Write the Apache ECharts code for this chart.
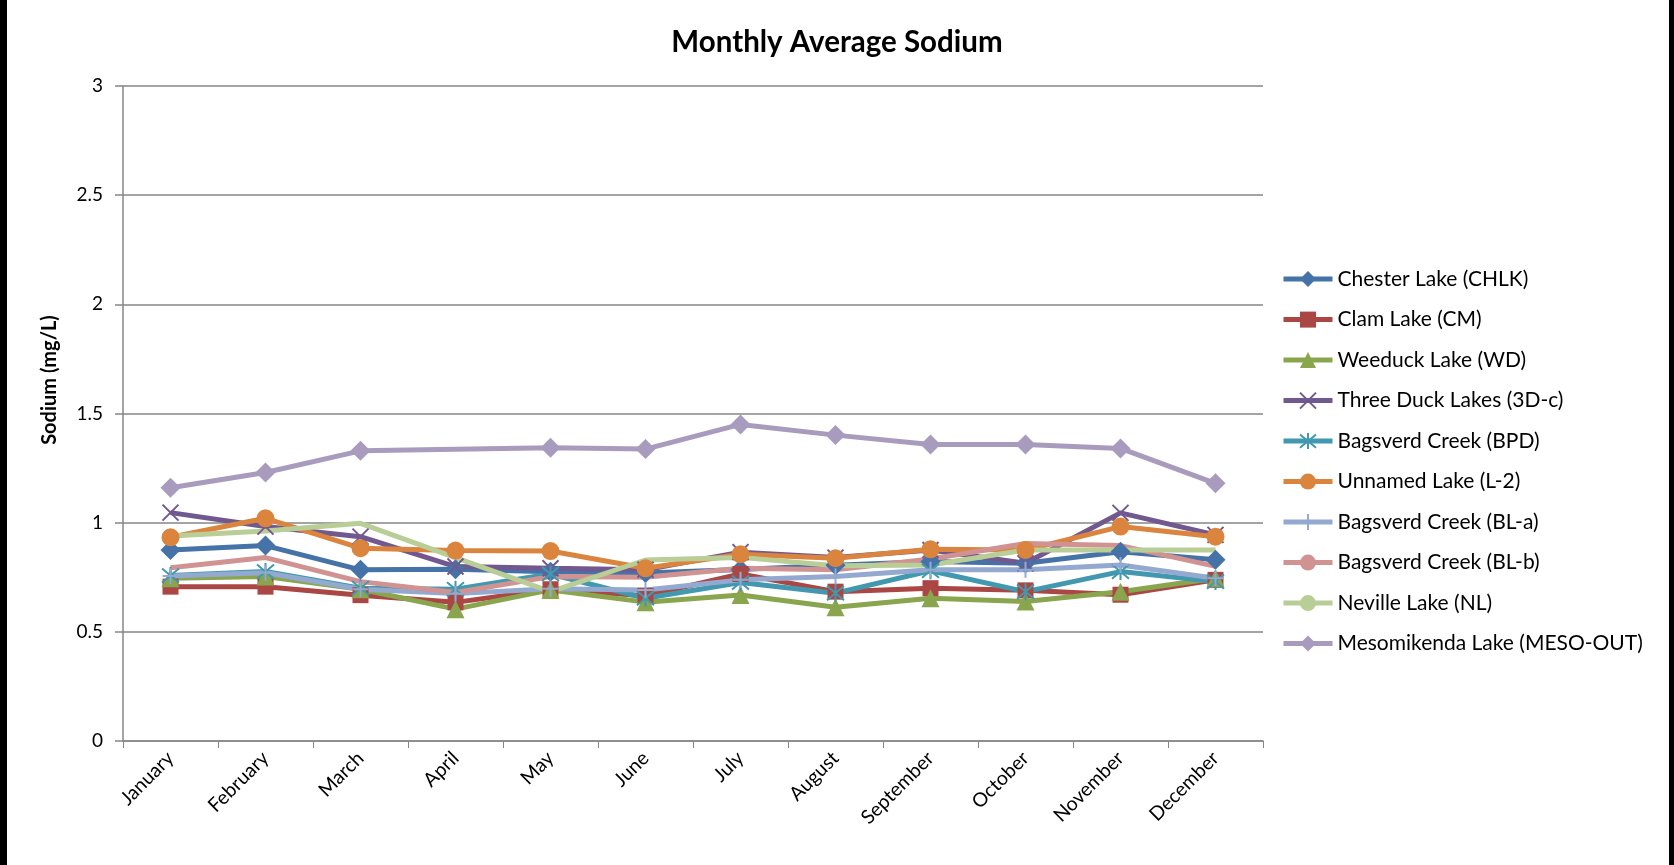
<!DOCTYPE html>
<html>
<head>
<meta charset="utf-8">
<script src="https://cdn.jsdelivr.net/npm/echarts@6/dist/echarts.min.js"></script>
<style>
html,body{margin:0;padding:0;background:#fff;}
#chart{width:1674px;height:865px;}
</style>
</head>
<body>
<div id="chart"></div>
<script>
const months = ['January','February','March','April','May','June','July','August','September','October','November','December'];
const seriesNames = ['Chester Lake (CHLK)','Clam Lake (CM)','Weeduck Lake (WD)','Three Duck Lakes (3D-c)','Bagsverd Creek (BPD)','Unnamed Lake (L-2)','Bagsverd Creek (BL-a)','Bagsverd Creek (BL-b)','Neville Lake (NL)','Mesomikenda Lake (MESO-OUT)'];
const chlk  = [0.875,0.895,0.784,0.787,0.775,0.770,0.785,0.805,0.822,0.814,0.867,0.830];
const cm    = [0.707,0.707,0.668,0.635,0.695,0.665,0.765,0.684,0.700,0.690,0.670,0.738];
const wd    = [0.745,0.753,0.695,0.604,0.692,0.636,0.669,0.613,0.654,0.639,0.684,0.745];
const d3c   = [1.046,0.982,0.936,0.799,0.791,0.784,0.865,0.840,0.875,0.814,1.045,0.944];
const bpd   = [0.758,0.776,0.700,0.695,0.765,0.654,0.726,0.677,0.780,0.684,0.776,0.730];
const l2    = [0.933,1.020,0.883,0.872,0.870,0.791,0.855,0.837,0.878,0.875,0.982,0.936];
const bla   = [0.756,0.771,0.695,0.675,0.697,0.692,0.738,0.753,0.784,0.784,0.806,0.745];
const blb   = [0.794,0.840,0.730,0.680,0.753,0.750,0.791,0.784,0.834,0.905,0.895,0.800];
const nl    = [0.939,0.962,0.997,0.840,0.684,0.829,0.841,0.803,0.806,0.875,0.875,0.875];
const meso  = [1.160,1.230,1.329,null,1.343,1.337,1.450,1.401,1.358,1.358,1.340,1.180];
const yTickLabels = ['0','0.5','1','1.5','2','2.5','3'];
const yTitle = 'Sodium (mg/L)';
const chartTitle = 'Monthly Average Sodium';

const colors = ['#4572A7','#AA4643','#89A54E','#71588F','#4198AF','#DB843D','#93A9CF','#D19392','#B9CD96','#A99BBD'];
const allData = [chlk,cm,wd,d3c,bpd,l2,bla,blb,nl,meso];
const symX = 'path://M0,0L10,10M10,0L0,10';
const symStar = 'path://M0,0L10,10M10,0L0,10M5,-1L5,11';
const symPlus = 'path://M5,0L5,10M0,5L10,5';
const symbols = ['diamond','rect','triangle',symX,symStar,'circle',symPlus,'none','none','diamond'];
const sizes = [20,16,18,16,17,18,16,0,0,20];
const strokeOnly = [false,false,false,true,true,false,true,false,false,false];

const FONT = 'Lato, "Open Sans", sans-serif';
const chart = echarts.init(document.getElementById('chart'));
const series = seriesNames.map((n,i)=>({
  name:n, type:'line', data:allData[i], connectNulls:true,
  symbol:symbols[i], symbolSize:sizes[i], showSymbol: symbols[i]!=='none',
  lineStyle:{width:5,color:colors[i]},
  itemStyle: strokeOnly[i] ? {color:colors[i],borderColor:colors[i],borderWidth:2} : {color:colors[i]},
  emphasis:{disabled:true},
  animation:false
}));
chart.setOption({
  animation:false,
  backgroundColor:'#fff',
  title:{text:chartTitle,left:'center',top:27,padding:0,
    textStyle:{fontFamily:FONT,fontSize:29.5,fontWeight:'bold',color:'#000'}},
  grid:{left:123,top:86,right:411,bottom:124,containLabel:false},
  legend:{orient:'vertical',left:1281,top:268.6,padding:0,itemWidth:49,itemHeight:20,itemGap:19.5,
    lineStyle:{width:5},
    textStyle:{fontFamily:FONT,fontSize:21,lineHeight:20,color:'#000'},data:seriesNames},
  xAxis:{type:'category',data:months,boundaryGap:true,
    axisLine:{lineStyle:{color:'#868686',width:1.5}},
    axisTick:{show:true,length:7,interval:0,lineStyle:{color:'#868686',width:1}},
    axisLabel:{rotate:45,interval:0,margin:14,fontFamily:FONT,fontSize:19.5,color:'#000'}},
  yAxis:{type:'value',min:0,max:3,interval:0.5,
    axisLine:{show:true,lineStyle:{color:'#868686',width:1.5}},
    axisTick:{show:true,length:8,lineStyle:{color:'#868686',width:1.5}},
    splitLine:{show:true,lineStyle:{color:'#868686',width:1.5}},
    axisLabel:{margin:20,fontFamily:FONT,fontSize:19,color:'#000',
      formatter:(v)=>yTickLabels[Math.round(v/0.5)]}},
  graphic:[
    {type:'rect',shape:{x:0,y:0,width:7,height:865},style:{fill:'#000'},silent:true},
    {type:'rect',shape:{x:1669,y:0,width:5,height:865},style:{fill:'#000'},silent:true},
    {type:'text',x:50,y:380,rotation:Math.PI/2,silent:true,
      style:{text:yTitle,align:'center',verticalAlign:'middle',fontFamily:FONT,fontSize:20,fontWeight:'bold',fill:'#000'}}
  ],
  series:series
});
</script>
</body>
</html>
